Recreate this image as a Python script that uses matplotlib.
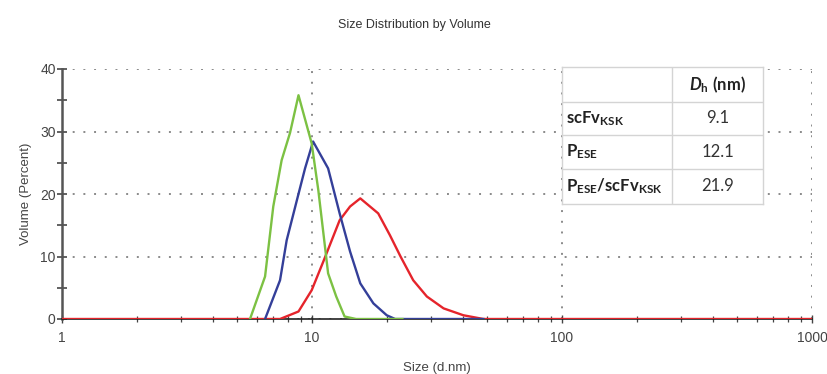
import matplotlib
matplotlib.use("Agg")
import matplotlib.pyplot as plt
from matplotlib.ticker import FixedLocator, LogLocator, NullFormatter, FuncFormatter

plt.rcParams['font.family'] = ['Liberation Sans', 'DejaVu Sans']
plt.rcParams['mathtext.fontset'] = 'custom'
plt.rcParams['mathtext.rm'] = 'Lato'
plt.rcParams['mathtext.bf'] = 'Lato:bold'
plt.rcParams['mathtext.it'] = 'Lato:italic'
plt.rcParams['mathtext.bfit'] = 'Lato:bold:italic'

# ---- data ----
green_size = [5.65, 6.49, 7.0, 7.56, 8.17, 8.83, 9.97, 10.6, 11.6, 12.5, 13.5, 15.0, 23.0]
green_vol = [0.0, 6.8, 18.0, 25.4, 29.8, 35.8, 28.1, 20.6, 7.3, 3.6, 0.4, 0.0, 0.0]

blue_size = [6.49, 7.45, 7.92, 8.7, 9.38, 10.1, 11.6, 12.9, 14.2, 15.6, 17.6, 19.9, 21.5, 48.5]
blue_vol = [0.0, 6.2, 12.6, 19.0, 24.1, 28.4, 24.1, 16.9, 10.8, 5.7, 2.5, 0.6, 0.0, 0.0]

red_size = [1.0, 7.45, 8.83, 9.97, 11.1, 12.9, 14.2, 15.6, 18.4, 20.5, 22.6, 25.4, 28.8,
            33.6, 40.3, 48.5, 1000.0]
red_vol = [0.0, 0.0, 1.2, 4.6, 9.2, 15.8, 18.0, 19.3, 16.9, 13.4, 10.0, 6.2, 3.6,
           1.7, 0.6, 0.0, 0.0]

table_rows = [r'$\mathbf{scFv_{KSK}}$', r'$\mathbf{P_{ESE}}$', r'$\mathbf{P_{ESE}/scFv_{KSK}}$']
table_vals = ['9.1', '12.1', '21.9']
table_header = r'$\mathbfit{D}_{\mathbf{h}}\ \mathbf{(nm)}$'

W, H = 828, 374
fig = plt.figure(figsize=(W / 100, H / 100), dpi=100)
ax = fig.add_axes([62 / W, 1 - 319 / H, 750 / W, 250 / H])

ax.plot(red_size, red_vol, color='#e5242b', lw=1.7, zorder=3, solid_joinstyle='round')
ax.plot(blue_size, blue_vol, color='#343f99', lw=1.7, zorder=4, solid_joinstyle='round')
ax.plot(green_size, green_vol, color='#7cc143', lw=1.7, zorder=5, solid_joinstyle='round')

ax.set_xscale('log')
ax.set_xlim(1, 1000)
ax.set_ylim(0, 40)
ax.xaxis.set_major_locator(FixedLocator([1, 10, 100, 1000]))
ax.xaxis.set_major_formatter(FuncFormatter(lambda v, p: f'{v:g}'))
ax.xaxis.set_minor_locator(LogLocator(base=10, subs=range(2, 10)))
ax.xaxis.set_minor_formatter(NullFormatter())
ax.yaxis.set_major_locator(FixedLocator([0, 10, 20, 30, 40]))
ax.yaxis.set_minor_locator(FixedLocator([5, 15, 25, 35]))

ax.grid(True, which='major', color='#8a8a8a', linestyle=(0, (1, 4.5)), linewidth=1.4)
for s in ['top', 'right']:
    ax.spines[s].set_visible(False)
ax.spines['left'].set_color('#555555')
ax.spines['left'].set_linewidth(1.8)
ax.spines['bottom'].set_color('#222222')
ax.spines['bottom'].set_linewidth(1.2)
ax.set_axisbelow(True)

ax.tick_params(axis='y', which='both', direction='inout', length=7, width=1.3, color='#555555',
               labelsize=10, labelcolor='#444444', pad=1)
ax.tick_params(axis='x', which='major', direction='inout', length=6, width=1.0, color='#444444',
               labelsize=10, labelcolor='#444444', pad=6)
ax.tick_params(axis='x', which='minor', direction='inout', length=4, width=0.9, color='#444444')

ax.set_xlabel('Size (d.nm)', fontsize=9.5, color='#444444', labelpad=12)
ax.set_ylabel('Volume (Percent)', fontsize=9.5, color='#444444', labelpad=6)
fig.text(414 / W, 1 - 25 / H, 'Size Distribution by Volume', ha='center', va='center',
         fontsize=9, color='#333333')

# ---- inset table ----
tx0, tx1, tx2 = 562, 672, 763
ty = [67, 102, 135, 169, 204]
tab = fig.add_axes([tx0 / W, 1 - ty[-1] / H, (tx2 - tx0) / W, (ty[-1] - ty[0]) / H])
tab.set_xlim(tx0, tx2)
tab.set_ylim(ty[-1], ty[0])
tab.set_facecolor('white')
for s in tab.spines.values():
    s.set_color('#d4d4d4')
    s.set_linewidth(1.0)
tab.set_xticks([])
tab.set_yticks([])
tab.axvline(tx1, color='#d4d4d4', lw=1.0)
for yy in ty[1:-1]:
    tab.axhline(yy, color='#d4d4d4', lw=1.0)

tab.text((tx1 + tx2) / 2, (ty[0] + ty[1]) / 2, table_header, ha='center', va='center',
         fontsize=12, color='#222222')
for i, (lab, val) in enumerate(zip(table_rows, table_vals)):
    yc = (ty[i + 1] + ty[i + 2]) / 2
    tab.text(tx0 + 4, yc, lab, ha='left', va='center', fontsize=12, color='#222222')
    tab.text((tx1 + tx2) / 2, yc, val, ha='center', va='center', fontsize=12,
             color='#333333', family='Lato')

fig.savefig('out.png', dpi=100)
